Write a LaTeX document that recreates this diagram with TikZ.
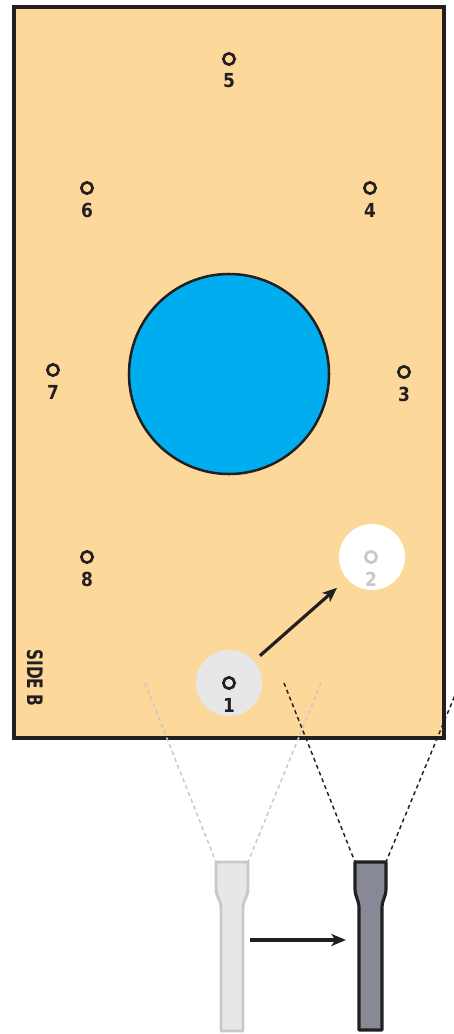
\documentclass[tikz,border=0pt]{standalone}
\usepackage{fontspec}
\setmainfont{Liberation Sans}
\newfontfamily\labelfont{DejaVu Sans}
\usetikzlibrary{arrows.meta}
\definecolor{board}{RGB}{253,216,155}
\definecolor{ink}{RGB}{35,31,32}
\definecolor{holeblue}{RGB}{0,174,239}
\definecolor{lightdisk}{RGB}{230,231,232}
\definecolor{lightline}{RGB}{200,200,202}
\definecolor{darktool}{RGB}{135,138,150}
\tikzset{
  hole/.style={circle, draw=ink, line width=2pt, minimum size=8.5pt, inner sep=0pt},
  holelabel/.style={font=\labelfont\bfseries\fontsize{14.5}{14.5}\selectfont, text=ink, inner sep=0pt, xscale=0.88},
  disk/.style={circle, minimum size=49.5pt, inner sep=0pt},
  bigarrow/.style={-{Stealth[length=11pt,width=9pt,inset=3pt]}, line width=2.4pt, draw=ink},
  lightdash/.style={draw=lightline, line width=1.1pt, dash pattern=on 3pt off 2.5pt},
  darkdash/.style={draw=ink, line width=1.1pt, dash pattern=on 3pt off 2.5pt},
}
\begin{document}
\begin{tikzpicture}[x=0.75pt,y=-0.75pt]
\useasboundingbox (0,0) rectangle (453,1034);
% board
\node[draw=ink, line width=2.3pt, fill=board, minimum width=322.5pt, minimum height=548.25pt, inner sep=0pt] (board) at (229,372.5) {};
% big blue hole
\node[circle, draw=ink, line width=1.9pt, fill=holeblue, minimum size=150pt, inner sep=0pt] (big) at (229,374) {};
% disks
\node[disk, fill=lightdisk] (d1) at (229,683) {};
\node[disk, fill=white] (d2) at (372,557) {};
% holes and labels
\foreach \n/\x/\y in {5/229/59, 6/87/188, 4/370/188, 7/53/370, 3/404/372, 8/87/557, 1/229/683}{
  \node[hole] (h\n) at (\x,\y) {};
  \node[holelabel] (l\n) at (\x,\y+22) {\n};
}
\node[hole, draw=lightline] (h2) at (371,557) {};
\node[holelabel, text=lightline] (l2) at (371,579) {2};
% side label
\node[font=\labelfont\bfseries\fontsize{16}{16}\selectfont, text=ink, rotate=-90, xscale=0.72, inner sep=0pt] (side) at (35,678) {SIDE B};
% move arrow
\draw[bigarrow, shorten <=6pt, shorten >=10pt] (d1) -- (d2);
% tools
\draw[draw=lightline, fill=lightdisk, line width=2.2pt, line join=round]
  (216,862) coordinate (lt1) -- (248,862) coordinate (lt2) -- (248,888) .. controls (248,898) and (243,899) .. (243,908)
  -- (243,1031) -- (221,1031) -- (221,908) .. controls (221,899) and (216,898) .. (216,888) -- cycle;
\draw[draw=ink, fill=darktool, line width=2.4pt, line join=round]
  (355,862) coordinate (rt1) -- (386,862) coordinate (rt2) -- (386,888) .. controls (386,898) and (382,899) .. (382,908)
  -- (382,1030) -- (359,1030) -- (359,908) .. controls (359,899) and (355,898) .. (355,888) -- cycle;
% sight lines
\coordinate (a1) at (145,683);
\coordinate (a2) at (321,683);
\coordinate (b1) at (284,683);
\coordinate (b2) at (460,683);
\draw[lightdash] (a1) -- (lt1);
\draw[lightdash] (a2) -- (lt2);
\draw[darkdash] (b1) -- (rt1);
\draw[darkdash] (b2) -- (rt2);
% tool arrow
\coordinate (ta) at (250,940);
\coordinate (tb) at (346,940);
\draw[bigarrow] (ta) -- (tb);
\end{tikzpicture}
\end{document}
